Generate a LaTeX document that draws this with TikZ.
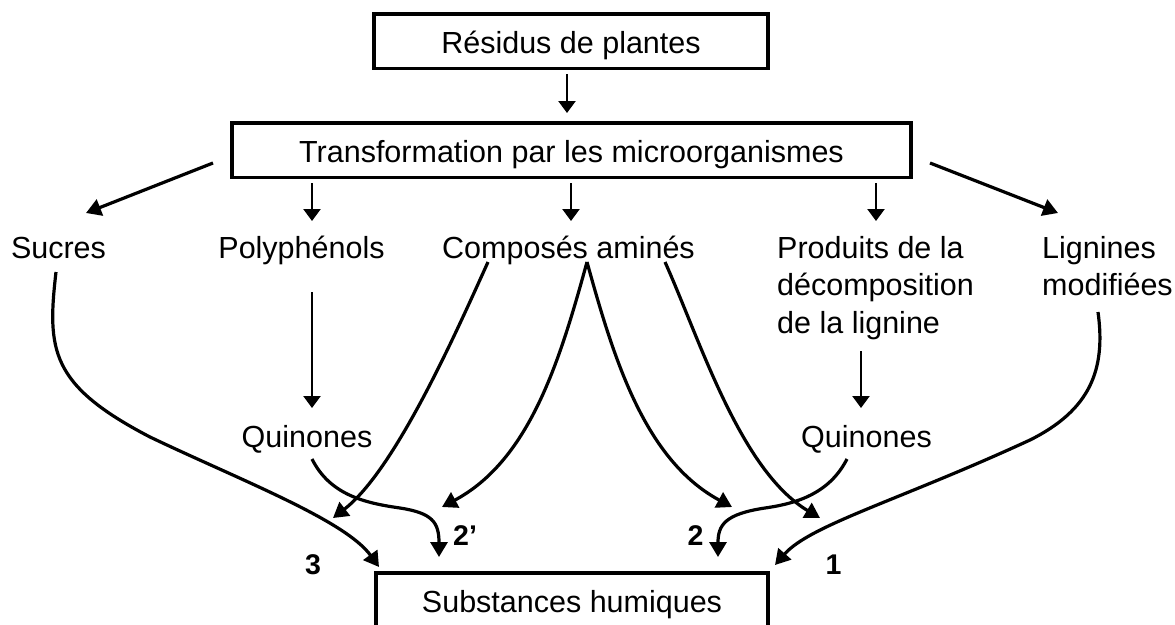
\documentclass[tikz,border=0pt]{standalone}
\usepackage{fontspec}
\setmainfont{Liberation Sans}
\usetikzlibrary{arrows.meta}
\tikzset{
  lbl/.style={inner sep=0pt, font=\fontsize{30.5}{37.5}\selectfont},
  box/.style={draw, line width=3.2pt, inner sep=0pt, text height=39pt, text depth=15.5pt,
              font=\fontsize{30.5}{37.5}\selectfont},
  num/.style={inner sep=0pt, font=\fontsize{28.5}{30}\selectfont\bfseries},
  varr/.style={line width=2.4pt, -{Triangle[length=12pt,width=17pt]}},
  darr/.style={line width=3.2pt, -{Triangle[length=15pt,width=17pt]}},
  carr/.style={line width=3.2pt, -{Triangle[length=15pt,width=17pt]}}
}
\begin{document}
\begin{tikzpicture}[x=1pt,y=-1pt]
\useasboundingbox (0,0) rectangle (1175,624);
\clip (0,0) rectangle (1175,624);

% boxes
\node[box, minimum width=394pt, anchor=base] (res) at (571,53) {Résidus de plantes};
\node[box, minimum width=679pt, anchor=base] (trans) at (571.5,162) {Transformation par les microorganismes};
\node[box, minimum width=392pt, anchor=base, text depth=40pt] (subst) at (572,612) {Substances humiques};

% labels
\node[lbl, anchor=base] (sucres) at (58.5,258) {Sucres};
\node[lbl, anchor=base] (poly) at (301.5,258) {Polyphénols};
\node[lbl, anchor=base] (amines) at (568.5,258) {Composés aminés};
\node[lbl, anchor=north west, align=left] (prod) at (777,236) {Produits de la\\décomposition\\de la lignine};
\node[lbl, anchor=north west, align=left] (lign) at (1042,236) {Lignines\\modifiées};
\node[lbl, anchor=base] (quinL) at (307,447) {Quinones};
\node[lbl, anchor=base] (quinR) at (866.5,447) {Quinones};

\node[num, anchor=base] (n3) at (313,574) {3};
\node[num, anchor=base west] (n2p) at (453,545) {2’};
\node[num, anchor=base] (n2) at (695.5,545) {2};
\node[num, anchor=base] (n1) at (833.5,574) {1};

% connector end points
\coordinate (resS) at (567,74);   \coordinate (transN) at (567,113);
\coordinate (tP) at (312,183);    \coordinate (polyN) at (312,221);
\coordinate (tA) at (571,183);    \coordinate (amN) at (571,221);
\coordinate (tD) at (876,183);    \coordinate (prodN) at (876,221);
\coordinate (tS) at (213,163);    \coordinate (sucN) at (86,213);
\coordinate (tL) at (930,163);    \coordinate (ligN) at (1058,213);
\coordinate (polyS) at (312,292); \coordinate (qLN) at (312,408);
\coordinate (prodS) at (861,351); \coordinate (qRN) at (861,408);

\coordinate (sucS) at (56,272);
\coordinate (qLS) at (312,459);
\coordinate (qRS) at (847,459);
\coordinate (amL) at (488,262);
\coordinate (amM) at (587,262);
\coordinate (amR) at (665,262);
\coordinate (ligS) at (1098,312);

\coordinate (in3) at (379,567);
\coordinate (in2p) at (439,557);
\coordinate (in2) at (718,557);
\coordinate (in1) at (775,565);
\coordinate (jL) at (333,518);
\coordinate (jLp) at (442,507);
\coordinate (jR) at (732,507);
\coordinate (jRr) at (820,518);

% straight arrows
\draw[varr] (resS) -- (transN);
\draw[varr] (tP) -- (polyN);
\draw[varr] (tA) -- (amN);
\draw[varr] (tD) -- (prodN);
\draw[darr] (tS) -- (sucN);
\draw[darr] (tL) -- (ligN);
\draw[varr] (polyS) -- (qLN);
\draw[varr] (prodS) -- (qRN);

% curved arrows
\draw[carr] (sucS) .. controls (47,350) and (50,385) .. (150,437)
                   .. controls (240,480) and (345,520) .. (in3);
\draw[carr] (qLS) .. controls (330,495) and (365,503) .. (400,508)
                  .. controls (432,513) and (439,522) .. (in2p);
\draw[carr] (amL) .. controls (455,335) and (395,470) .. (jL);
\draw[carr] (amM) .. controls (560,360) and (530,460) .. (jLp);
\draw[carr] (amM) .. controls (614,360) and (645,460) .. (jR);
\draw[carr] (amR) .. controls (700,340) and (740,470) .. (jRr);
\draw[carr] (qRS) .. controls (830,492) and (800,503) .. (765,508)
                  .. controls (725,514) and (718,525) .. (in2);
\draw[carr] (ligS) .. controls (1106,370) and (1090,410) .. (1030,440)
                   .. controls (900,500) and (810,525) .. (in1);
\end{tikzpicture}
\end{document}
